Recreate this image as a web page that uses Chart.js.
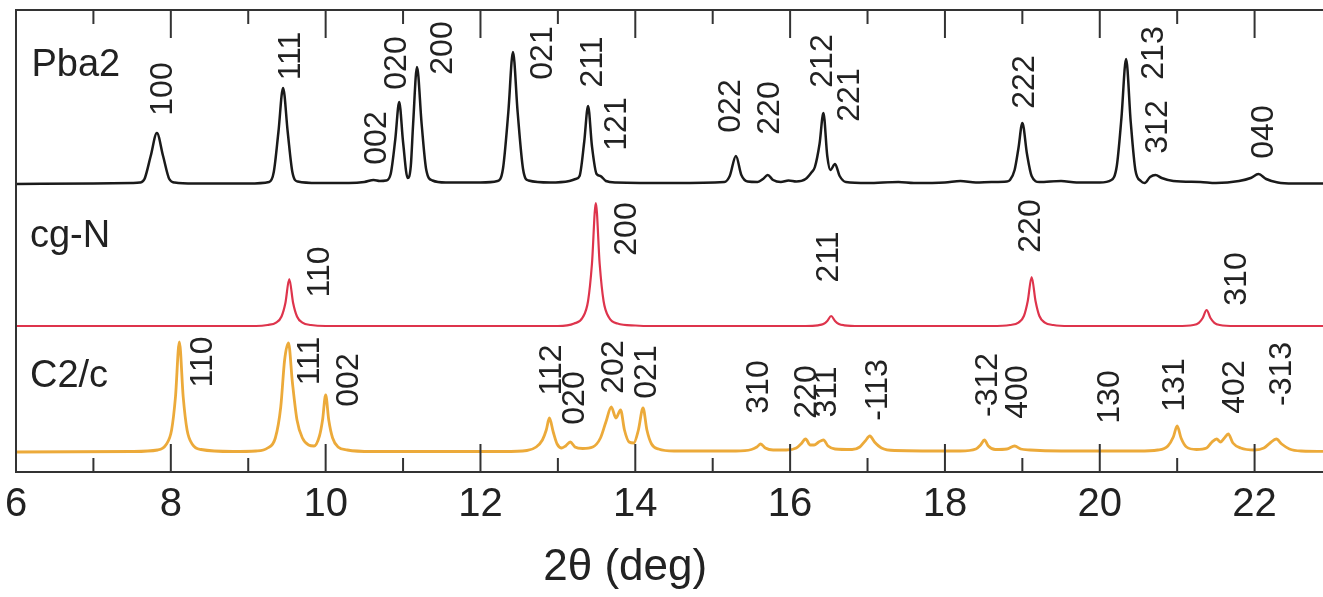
<!DOCTYPE html>
<html>
<head>
<meta charset="utf-8">
<script src="https://cdn.jsdelivr.net/npm/chart.js@4.4.1/dist/chart.umd.min.js"></script>
<style>
  html, body { margin: 0; padding: 0; background: #fff; overflow: hidden; }
  canvas { display: block; }
</style>
</head>
<body>
<canvas id="xrd" width="1340" height="597"></canvas>
<script>
// 2θ range and tick marks
const thetaMin = 6;
const thetaMax = 23;
const tickValues = [6, 7, 8, 9, 10, 11, 12, 13, 14, 15, 16, 17, 18, 19, 20, 21, 22, 23];
const tickLabels = ["6", "8", "10", "12", "14", "16", "18", "20", "22"];
const axisTitle = "2θ (deg)";

// Series names
const seriesNames = ["Pba2", "cg-N", "C2/c"];

// Vertical offsets of each pattern (same units as the intensities)
const seriesOffsets = [288, 146, 20];

// Patterns: [2θ, intensity]
const pba2Pattern = [
  [6.0, 0], [7.0, 0.5], [7.5, 1], [7.6, 1.5], [7.66, 5], [7.74, 28], [7.82, 51], [7.9, 28],
  [7.98, 5], [8.05, 1.5], [8.3, 0.5], [9.0, 0.5], [9.27, 2], [9.33, 12], [9.39, 52], [9.45, 96],
  [9.51, 52], [9.57, 12], [9.64, 2.5], [9.9, 1], [10.3, 1], [10.5, 2], [10.62, 4], [10.7, 3],
  [10.78, 3.5], [10.84, 10], [10.9, 45], [10.95, 82], [11.0, 42], [11.06, 6], [11.1, 18],
  [11.13, 60], [11.18, 117], [11.24, 60], [11.3, 14], [11.38, 3.5], [11.55, 1.5], [12.0, 1.5],
  [12.22, 3], [12.29, 15], [12.36, 72], [12.42, 132], [12.48, 72], [12.55, 15], [12.62, 3.5],
  [12.9, 1.5], [13.15, 3], [13.23, 5], [13.28, 8], [13.34, 42], [13.39, 78], [13.44, 38],
  [13.5, 10], [13.55, 8], [13.62, 3], [13.75, 1.5], [14.5, 1], [15.15, 2], [15.22, 8],
  [15.3, 28], [15.37, 9], [15.45, 2.5], [15.58, 2], [15.65, 5], [15.71, 9], [15.78, 4],
  [15.88, 2], [15.98, 3.5], [16.08, 2.5], [16.2, 5], [16.28, 12], [16.32, 17], [16.38, 40],
  [16.43, 71], [16.48, 28], [16.52, 14], [16.58, 20], [16.64, 8], [16.72, 2], [17.0, 1],
  [17.4, 2], [17.6, 1], [18.0, 1.5], [18.2, 3], [18.4, 1.5], [18.6, 2], [18.8, 2.5],
  [18.84, 4], [18.9, 14], [18.95, 36], [19.0, 61], [19.06, 30], [19.12, 8], [19.22, 2],
  [19.5, 3], [19.7, 1.5], [20.0, 1.5], [20.15, 4], [20.22, 18], [20.28, 66], [20.34, 125],
  [20.4, 62], [20.46, 14], [20.53, 3], [20.58, 1], [20.65, 7], [20.72, 9], [20.8, 6],
  [20.95, 3], [21.3, 2], [21.5, 1], [21.8, 3], [21.95, 6], [22.05, 10], [22.15, 5],
  [22.3, 1.5], [22.5, 0.5], [23.0, 0.5]
];

const cgnPattern = [
  [6.0, 0], [9.1, 0], [9.25, 1], [9.36, 3.3], [9.43, 9.5], [9.48, 23], [9.53, 47], [9.58, 23],
  [9.63, 9.5], [9.7, 3.3], [9.81, 1], [10.0, 0], [13.0, 0], [13.21, 2.5], [13.32, 8.5],
  [13.39, 25], [13.44, 62], [13.49, 123], [13.54, 62], [13.59, 25], [13.66, 8.5], [13.77, 2.5],
  [14.0, 0.5], [14.2, 0], [16.2, 0], [16.36, 0.7], [16.43, 2], [16.48, 5], [16.53, 10],
  [16.58, 5], [16.63, 2], [16.7, 0.7], [16.9, 0], [18.6, 0], [18.84, 1], [18.95, 3.4],
  [19.02, 10], [19.07, 25], [19.12, 49], [19.17, 25], [19.22, 10], [19.29, 3.4], [19.4, 1],
  [19.6, 0], [21.0, 0], [21.21, 1], [21.28, 3.2], [21.33, 8], [21.38, 16], [21.43, 8],
  [21.48, 3.2], [21.55, 1], [21.75, 0], [23.0, 0]
];

const c2cPattern = [
  [6.0, 0], [7.5, 0.5], [7.83, 2], [7.94, 7.5], [8.01, 22], [8.06, 55], [8.11, 110], [8.16, 55],
  [8.21, 22], [8.28, 7.5], [8.39, 2.5], [8.8, 0.5], [9.1, 1], [9.25, 4], [9.35, 14], [9.42, 45],
  [9.47, 92], [9.52, 109], [9.57, 70], [9.63, 32], [9.7, 14], [9.78, 7], [9.85, 6], [9.92, 16],
  [9.96, 32], [10.0, 57], [10.04, 32], [10.09, 14], [10.16, 5], [10.28, 2], [10.6, 0.5],
  [12.3, 0.5], [12.6, 1.5], [12.72, 5], [12.8, 12], [12.85, 22], [12.89, 34], [12.94, 20],
  [12.99, 8], [13.05, 4], [13.1, 6], [13.16, 10], [13.22, 5], [13.32, 3.5], [13.45, 5],
  [13.55, 14], [13.62, 30], [13.69, 45], [13.75, 34], [13.81, 42], [13.86, 22], [13.92, 10],
  [13.98, 9], [14.04, 22], [14.1, 44], [14.15, 22], [14.21, 8], [14.3, 3], [14.5, 1],
  [15.3, 1], [15.5, 2.5], [15.57, 5], [15.62, 8], [15.68, 4], [15.78, 2], [15.95, 2],
  [16.08, 4], [16.14, 8], [16.2, 13], [16.26, 7], [16.31, 7], [16.37, 10], [16.43, 12],
  [16.49, 6], [16.58, 3], [16.8, 2.5], [16.9, 5], [16.97, 11], [17.03, 16], [17.09, 10],
  [17.18, 4], [17.35, 1.5], [18.2, 1], [18.4, 3], [18.46, 7], [18.51, 12], [18.56, 6],
  [18.65, 2.5], [18.8, 3], [18.9, 6], [18.98, 3], [19.1, 2], [19.5, 1], [20.5, 1],
  [20.75, 2], [20.88, 6], [20.95, 15], [21.0, 26], [21.05, 14], [21.12, 5], [21.25, 2.5],
  [21.38, 4], [21.45, 10], [21.51, 13], [21.56, 10], [21.61, 14], [21.66, 18], [21.72, 9],
  [21.82, 4], [22.0, 2], [22.12, 4], [22.2, 9], [22.28, 13], [22.35, 8], [22.45, 3],
  [22.6, 1], [23.0, 0.5]
];

// Miller index labels: [text, 2θ, height of label centre]
const pba2Labels = [
  ["100", 7.9, 383], ["111", 9.55, 416], ["002", 10.66, 334], ["020", 10.92, 409],
  ["200", 11.52, 424], ["021", 12.81, 419], ["211", 13.46, 410], ["121", 13.77, 348],
  ["022", 15.24, 366], ["220", 15.74, 364], ["212", 16.43, 411], ["221", 16.77, 377],
  ["222", 19.04, 390], ["213", 20.70, 419], ["312", 20.75, 345], ["040", 22.12, 340]
];
const cgnLabels = [
  ["110", 9.93, 200], ["200", 13.89, 243], ["211", 16.51, 215], ["220", 19.12, 246],
  ["310", 21.78, 193]
];
const c2cLabels = [
  ["110", 8.42, 110], ["111", 9.8, 111], ["002", 10.31, 92], ["112", 12.93, 102],
  ["020", 13.22, 74], ["202", 13.73, 105], ["021", 14.15, 100], ["310", 15.6, 85],
  ["220", 16.22, 80], ["311", 16.48, 80], ["-113", 17.14, 82], ["-312", 18.56, 87],
  ["400", 18.95, 80], ["130", 20.13, 75], ["131", 20.97, 87], ["402", 21.75, 85],
  ["-313", 22.35, 98]
];

// Series name positions: [2θ, height]
const nameAnchors = [[6.2, 406], [6.18, 235], [6.18, 95]];
// Axis title centre (2θ)
const titleCentre = 13.87;

const lineColors = ["#1a1a1a", "rgb(222, 52, 76)", "rgb(236, 170, 58)"];
const lineWidths = [2.5, 2.2, 2.8];
const allPatterns = [pba2Pattern, cgnPattern, c2cPattern];
const allLabels = [pba2Labels, cgnLabels, c2cLabels];

const datasets = allPatterns.map((pat, i) => ({
  label: seriesNames[i],
  data: pat.map(([x, y]) => ({ x: x, y: y + seriesOffsets[i] })),
  borderColor: lineColors[i],
  borderWidth: lineWidths[i],
  pointRadius: 0,
  cubicInterpolationMode: "monotone",
  fill: false,
}));

const textColor = "#222";
const fontFamily = "'Liberation Sans', Arial, sans-serif";

// Frame, inward ticks and text annotations
const decorPlugin = {
  id: "decor",
  afterDatasetsDraw(chart) {
    const { ctx, chartArea, scales } = chart;
    const xs = scales.x, ys = scales.y;
    ctx.save();

    // frame
    ctx.strokeStyle = "#333";
    ctx.lineWidth = 2;
    ctx.strokeRect(chartArea.left, chartArea.top, chartArea.right - chartArea.left, chartArea.bottom - chartArea.top);

    // ticks pointing into the plot, top and bottom
    tickValues.forEach((v) => {
      const px = xs.getPixelForValue(v);
      const len = v % 2 === 0 ? 28 : 14;
      ctx.beginPath();
      ctx.moveTo(px, chartArea.bottom);
      ctx.lineTo(px, chartArea.bottom - len);
      ctx.moveTo(px, chartArea.top);
      ctx.lineTo(px, chartArea.top + len);
      ctx.stroke();
    });

    // series names
    ctx.fillStyle = textColor;
    ctx.font = "38px " + fontFamily;
    ctx.textAlign = "left";
    ctx.textBaseline = "middle";
    seriesNames.forEach((name, i) => {
      const [x, y] = nameAnchors[i];
      ctx.fillText(name, xs.getPixelForValue(x), ys.getPixelForValue(y));
    });

    // rotated Miller indices
    ctx.font = "32px " + fontFamily;
    ctx.textAlign = "center";
    allLabels.forEach((list) => {
      list.forEach(([text, x, y]) => {
        ctx.save();
        ctx.translate(xs.getPixelForValue(x), ys.getPixelForValue(y));
        ctx.rotate(-Math.PI / 2);
        ctx.fillText(text, 0, 0);
        ctx.restore();
      });
    });

    // axis title
    ctx.font = "44px " + fontFamily;
    ctx.fillText(axisTitle, xs.getPixelForValue(titleCentre), 568);
    ctx.restore();
  },
};

new Chart(document.getElementById("xrd"), {
  type: "line",
  data: { datasets: datasets },
  options: {
    responsive: false,
    animation: false,
    devicePixelRatio: 1,
    layout: { padding: { left: 16, right: 8, top: 10, bottom: 0 } },
    plugins: { legend: { display: false }, tooltip: { enabled: false } },
    scales: {
      x: {
        type: "linear",
        min: thetaMin,
        max: thetaMax,
        afterFit: (scale) => {
          scale.height = 125;
          scale.paddingLeft = 0;
          scale.paddingRight = 0;
        },
        afterBuildTicks: (scale) => { scale.ticks = tickValues.map((v) => ({ value: v })); },
        grid: { display: false, drawTicks: false },
        border: { display: false },
        ticks: {
          autoSkip: false,
          maxRotation: 0,
          padding: 9,
          color: textColor,
          font: { family: fontFamily, size: 40 },
          callback: (v) => (tickLabels.includes(String(v)) ? String(v) : ""),
        },
      },
      y: {
        type: "linear",
        display: false,
        min: 0,
        max: 462,
      },
    },
  },
  plugins: [decorPlugin],
});
</script>
</body>
</html>
